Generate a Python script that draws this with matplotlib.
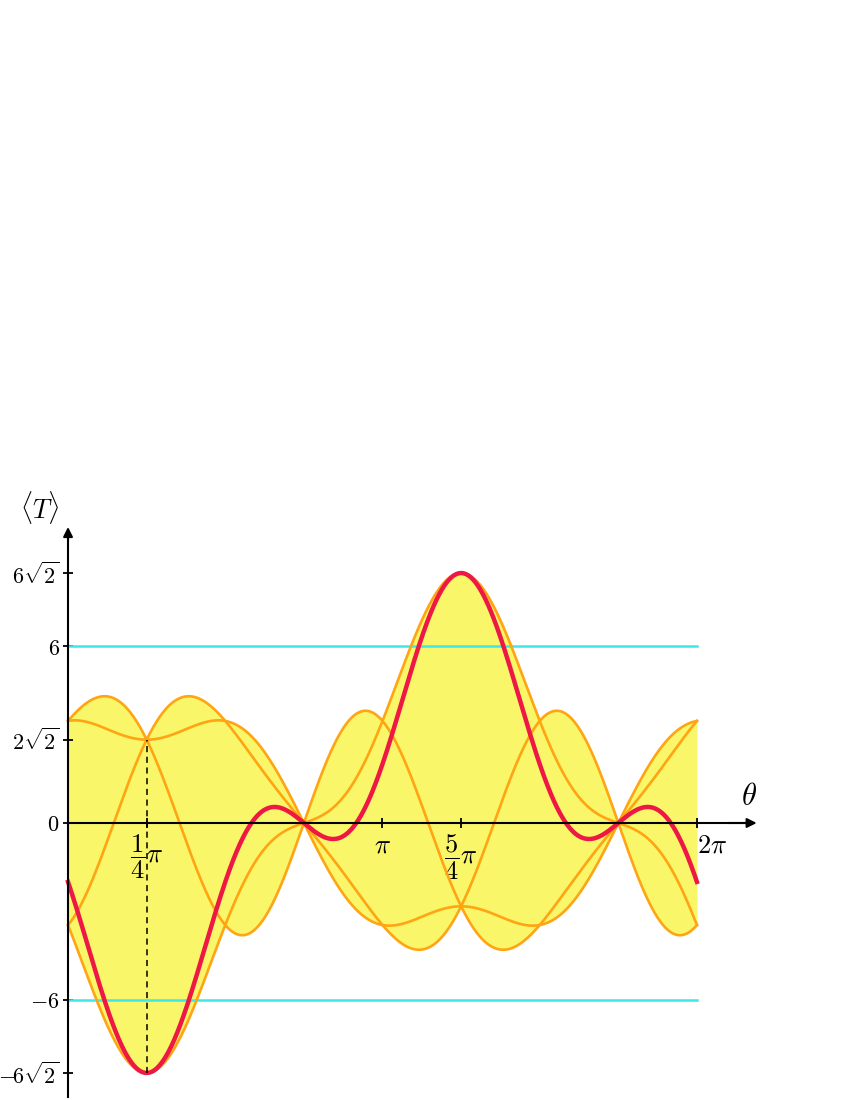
import numpy as np
import matplotlib
matplotlib.use('Agg')
import matplotlib.pyplot as plt

plt.rcParams['mathtext.fontset'] = 'cm'
plt.rcParams['font.family'] = ['DejaVu Serif']

# colours
fill_yellow = '#FAF66A'
curve_orange = '#FFA412'
red_line = '#EE1844'
cyan_line = '#3EE8E8'

# correlation matrix N(theta) = u w^T + 2 sin(2 theta) I,
# w = (1 - sin 2theta) r + cos 2theta p ;  T = (cos + sin) * sum N_ij s_i s_j
u_vec = [1, 1, 1]
r_vec = [1, 1, 0]
p_vec = [1, -1, 0]
diag_coef = 2.0

bound_levels = [6, -6]

ytick_vals = [6*np.sqrt(2), 6, 2*np.sqrt(2), 0, -6, -6*np.sqrt(2)]
ytick_text = [r'$6\sqrt{2}$', r'$6$', r'$2\sqrt{2}$', r'$0$', r'${-}6$', r'${-}\!6\sqrt{2}$']
xtick_vals = [np.pi/4, np.pi, 5*np.pi/4, 2*np.pi]
xtick_text = [r'$\dfrac{1}{4}\pi$', r'$\pi$', r'$\dfrac{5}{4}\pi$', r'$2\pi$']

sx = np.array([[0, 1], [1, 0]], dtype=complex)
sy = np.array([[0, -1j], [1j, 0]])
sz = np.array([[1, 0], [0, -1]], dtype=complex)
paulis = [sx, sy, sz]
singlet = np.array([0, 1, -1, 0], dtype=complex) / np.sqrt(2)

theta = np.linspace(0, 2*np.pi, 1500)
eigs = []
expect = []
for t in theta:
    w = (1 - np.sin(2*t))*np.array(r_vec) + np.cos(2*t)*np.array(p_vec)
    N = np.outer(u_vec, w) + diag_coef*np.sin(2*t)*np.eye(3)
    T = np.zeros((4, 4), dtype=complex)
    for i in range(3):
        for j in range(3):
            T += N[i, j]*np.kron(paulis[i], paulis[j])
    T = T*(np.cos(t) + np.sin(t))
    T = (T + T.conj().T)/2
    eigs.append(np.linalg.eigvalsh(T))
    expect.append(np.real(singlet.conj() @ T @ singlet))
eigs = np.array(eigs)
expect = np.array(expect)

fig = plt.figure(figsize=(8.5, 11), dpi=100)
ax = fig.add_axes([38/850, 0.0001, 730.7/850, 580.3/1100])
ax.set_xlim(-0.3, 7.0)
ax.set_ylim(-9.4, 10.3)

ax.fill_between(theta, eigs.min(axis=1), eigs.max(axis=1), color=fill_yellow, lw=0, zorder=1)
for lev in bound_levels:
    ax.plot([0, 2*np.pi], [lev, lev], color=cyan_line, lw=1.8, zorder=2)
for k in range(eigs.shape[1]):
    ax.plot(theta, eigs[:, k], color=curve_orange, lw=1.9, zorder=3)
ax.plot(theta, expect, color=red_line, lw=3.2, zorder=4)

# dashed guide at pi/4
ax.plot([np.pi/4, np.pi/4], [-6*np.sqrt(2), 2*np.sqrt(2)], color='black', lw=1.1,
        ls=(0, (4, 3)), zorder=5)

for side in ['top', 'right']:
    ax.spines[side].set_visible(False)
ax.spines['left'].set_position(('data', 0))
ax.spines['bottom'].set_position(('data', 0))
ax.spines['left'].set_bounds(-9.3, 9.8)
ax.spines['bottom'].set_bounds(0, 6.75)
for side in ['left', 'bottom']:
    ax.spines[side].set_linewidth(1.5)
    ax.spines[side].set_zorder(6)
ax.annotate('', xy=(0, 10.05), xytext=(0, 9.6),
            arrowprops=dict(arrowstyle='-|>', color='k', lw=1.5, mutation_scale=14,
                            shrinkA=0, shrinkB=0))
ax.annotate('', xy=(6.88, 0), xytext=(6.6, 0),
            arrowprops=dict(arrowstyle='-|>', color='k', lw=1.5, mutation_scale=14,
                            shrinkA=0, shrinkB=0))

ax.set_yticks(ytick_vals)
ax.set_yticklabels(ytick_text, fontsize=16)
ax.set_xticks(xtick_vals)
ax.set_xticklabels(xtick_text, fontsize=19)
ax.tick_params(axis='both', direction='inout', length=7, width=1.3)
ax.tick_params(axis='y', pad=2.5)
ax.tick_params(axis='x', pad=3.5)
ax.get_xticklabels()[-1].set_ha('left')

ax.text(-0.48, 10.7, r'$\langle T\rangle$', fontsize=19, ha='left', va='center')
ax.text(6.8, 0.9, r'$\theta$', fontsize=22, ha='center', va='center')

fig.savefig('out.png', dpi=100)
